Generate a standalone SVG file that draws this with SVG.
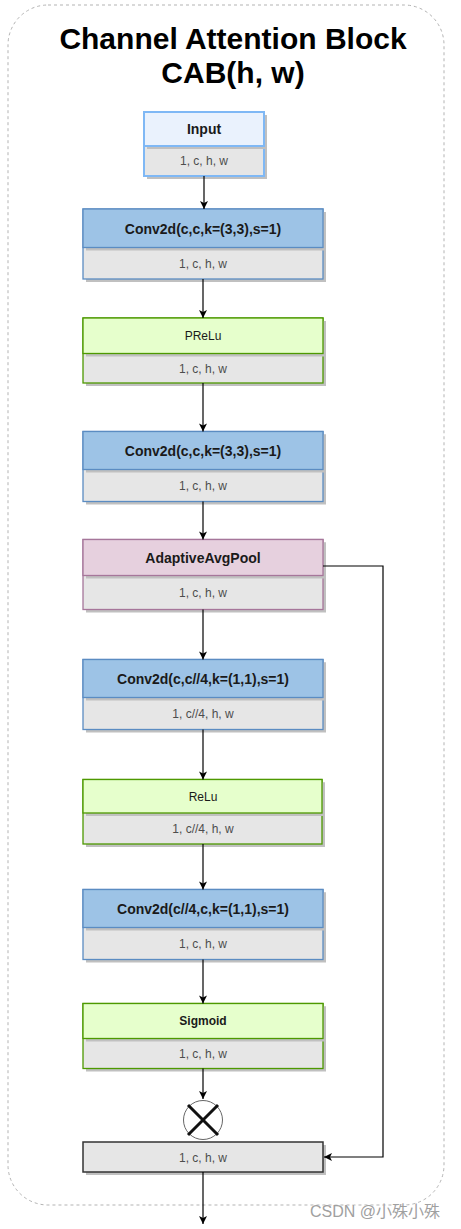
<svg xmlns="http://www.w3.org/2000/svg" width="461" height="1229" viewBox="0 0 461 1229">
<style>
.hd{font-family:"Liberation Sans",Arial,sans-serif;font-size:14px;font-weight:bold;fill:#1a1a1a;text-anchor:middle}
.hs{font-family:"Liberation Sans",Arial,sans-serif;font-size:12px;fill:#1a1a1a;text-anchor:middle}
.sb{font-family:"Liberation Sans",Arial,sans-serif;font-size:12px;fill:#4d4d4d;text-anchor:middle}
.sh{fill:#c0c0c0}
.sub{fill:#e6e6e6}
.blue{stroke:#5b8cc2;stroke-width:1.3}
.green{stroke:#4d9900;stroke-width:1.3}
.pink{stroke:#a6769a;stroke-width:1.3}
.conn{fill:none;stroke:#000;stroke-width:1.2}
</style>
<defs>
<marker id="arr" markerUnits="userSpaceOnUse" markerWidth="10" markerHeight="10" viewBox="0 0 10 10" refX="9" refY="5" orient="auto">
<path d="M1,1 L9,5 L1,9 L3,5 Z" fill="#000"/>
</marker>
</defs>
<rect x="8" y="5" width="436" height="1200" rx="40" ry="40" fill="none" stroke="#b3b3b3" stroke-width="1" stroke-dasharray="3,3"/>
<g id="title">
<text x="233" y="49" font-family="Liberation Sans,Arial,sans-serif" font-size="30" font-weight="bold" text-anchor="middle" fill="#000">Channel Attention Block</text>
<text x="233" y="83" font-family="Liberation Sans,Arial,sans-serif" font-size="30" font-weight="bold" text-anchor="middle" fill="#000">CAB(h, w)</text>
</g>
<g id="input">
<rect class="sh" x="147" y="115" width="120" height="64"/>
<rect class="sub" x="144" y="112" width="120" height="64" stroke="#7fb8f5" stroke-width="2"/>
<rect class="sh" x="147" y="115" width="120" height="34"/>
<rect x="144" y="112" width="120" height="34" fill="#eaf2fd" stroke="#7fb8f5" stroke-width="2"/>
<text class="hd" x="204" y="134">Input</text>
<text class="sb" x="204" y="165">1, c, h, w</text>
</g>
<g id="conv1">
<rect class="sh" x="86" y="212" width="240" height="70"/>
<rect class="sub blue" x="83" y="209" width="240" height="70"/>
<rect class="sh" x="86" y="212" width="240" height="38.5"/>
<rect class="blue" x="83" y="209" width="240" height="38.5" fill="#9dc3e6"/>
<text class="hd" x="203" y="233.5">Conv2d(c,c,k=(3,3),s=1)</text>
<text class="sb" x="203" y="267.5">1, c, h, w</text>
</g>
<g id="prelu">
<rect class="sh" x="86" y="321" width="240" height="65"/>
<rect class="sub green" x="83" y="318" width="240" height="65"/>
<rect class="sh" x="86" y="321" width="240" height="35.5"/>
<rect class="green" x="83" y="318" width="240" height="35.5" fill="#e6ffcc"/>
<text class="hs" x="203" y="340">PReLu</text>
<text class="sb" x="203" y="372.5">1, c, h, w</text>
</g>
<g id="conv2">
<rect class="sh" x="86" y="434.5" width="240" height="70"/>
<rect class="sub blue" x="83" y="431.5" width="240" height="70"/>
<rect class="sh" x="86" y="434.5" width="240" height="38"/>
<rect class="blue" x="83" y="431.5" width="240" height="38" fill="#9dc3e6"/>
<text class="hd" x="203" y="455.5">Conv2d(c,c,k=(3,3),s=1)</text>
<text class="sb" x="203" y="489.5">1, c, h, w</text>
</g>
<g id="avgpool">
<rect class="sh" x="86" y="542.5" width="240" height="70"/>
<rect class="sub pink" x="83" y="539.5" width="240" height="70"/>
<rect class="sh" x="86" y="542.5" width="240" height="36"/>
<rect class="pink" x="83" y="539.5" width="240" height="36" fill="#e6d0de"/>
<text class="hd" x="203" y="562.5">AdaptiveAvgPool</text>
<text class="sb" x="203" y="596.5">1, c, h, w</text>
</g>
<g id="conv3">
<rect class="sh" x="86" y="662.5" width="240" height="70"/>
<rect class="sub blue" x="83" y="659.5" width="240" height="70"/>
<rect class="sh" x="86" y="662.5" width="240" height="38"/>
<rect class="blue" x="83" y="659.5" width="240" height="38" fill="#9dc3e6"/>
<text class="hd" x="203" y="683.5">Conv2d(c,c//4,k=(1,1),s=1)</text>
<text class="sb" x="203" y="717.5">1, c//4, h, w</text>
</g>
<g id="relu">
<rect class="sh" x="86" y="782.5" width="239" height="64.5"/>
<rect class="sub green" x="83" y="779.5" width="239" height="64.5"/>
<rect class="sh" x="86" y="782.5" width="239" height="33.5"/>
<rect class="green" x="83" y="779.5" width="239" height="33.5" fill="#e6ffcc"/>
<text class="hs" x="203" y="800.5">ReLu</text>
<text class="sb" x="203" y="832.5">1, c//4, h, w</text>
</g>
<g id="conv4">
<rect class="sh" x="86" y="892.5" width="240" height="70"/>
<rect class="sub blue" x="83" y="889.5" width="240" height="70"/>
<rect class="sh" x="86" y="892.5" width="240" height="38"/>
<rect class="blue" x="83" y="889.5" width="240" height="38" fill="#9dc3e6"/>
<text class="hd" x="203" y="913.5">Conv2d(c//4,c,k=(1,1),s=1)</text>
<text class="sb" x="203" y="947.5">1, c, h, w</text>
</g>
<g id="sigmoid">
<rect class="sh" x="86" y="1006.5" width="240" height="65"/>
<rect class="sub green" x="83" y="1003.5" width="240" height="65"/>
<rect class="sh" x="86" y="1006.5" width="240" height="35"/>
<rect class="green" x="83" y="1003.5" width="240" height="35" fill="#e6ffcc"/>
<text class="hd" x="203" y="1025" style="font-size:12px">Sigmoid</text>
<text class="sb" x="203" y="1057.5">1, c, h, w</text>
</g>
<g id="multiply">
<circle cx="203" cy="1120" r="19.5" fill="#fff" stroke="#666" stroke-width="1"/>
<line x1="188" y1="1105" x2="218" y2="1135" stroke="#111" stroke-width="3"/>
<line x1="218" y1="1105" x2="188" y2="1135" stroke="#111" stroke-width="3"/>
</g>
<g id="output">
<rect class="sh" x="86" y="1145" width="240" height="30"/>
<rect class="sub" x="83" y="1142" width="240" height="30" stroke="#333" stroke-width="1.5"/>
<text class="sb" x="203" y="1161.5">1, c, h, w</text>
</g>
<g id="connectors">
<path class="conn" d="M204,176 V209" marker-end="url(#arr)"/>
<path class="conn" d="M203,279 V318" marker-end="url(#arr)"/>
<path class="conn" d="M203,383 V431.5" marker-end="url(#arr)"/>
<path class="conn" d="M203,501.5 V539.5" marker-end="url(#arr)"/>
<path class="conn" d="M203,609.5 V659.5" marker-end="url(#arr)"/>
<path class="conn" d="M203,729.5 V779.5" marker-end="url(#arr)"/>
<path class="conn" d="M203,844 V889.5" marker-end="url(#arr)"/>
<path class="conn" d="M203,959.5 V1003.5" marker-end="url(#arr)"/>
<path class="conn" d="M203,1068.5 V1099" marker-end="url(#arr)"/>
<path class="conn" d="M203,1172 V1224" marker-end="url(#arr)"/>
<path class="conn" d="M323,566 H383 V1157 H324" marker-end="url(#arr)"/>
</g>
<text x="310" y="1217" font-family="Liberation Sans,Noto Sans CJK SC,sans-serif" font-size="16" fill="#a0a0a0" stroke="#fff" stroke-width="0.5" paint-order="stroke">CSDN @小殊小殊</text>
</svg>
